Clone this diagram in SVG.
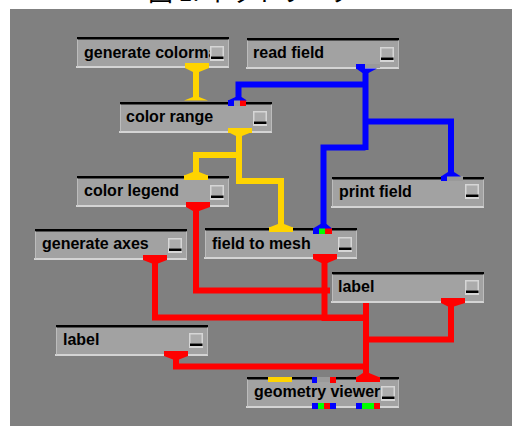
<svg xmlns="http://www.w3.org/2000/svg" xmlns:xlink="http://www.w3.org/1999/xlink" width="512" height="426" viewBox="0 0 512 426">
<style>
.face{fill:#a2a2a2}
.topl{fill:#000}
.botl{fill:#d4d4d4}
.lbl{font-family:"Liberation Sans",Arial,sans-serif;font-weight:bold;font-size:16px;fill:#000}
.cy{stroke:#ffd400;fill:none;stroke-width:6}
.cb{stroke:#0000ff;fill:none;stroke-width:6}
.cr{stroke:#ff0000;fill:none;stroke-width:6}
.fy{fill:#ffd400}
.fb{fill:#0000ff}
.fr{fill:#ff0000}
.fg{fill:#00ff00}
.pg{fill:#9a9a9a}
</style>
<defs>
<g id="btn">
<rect width="14" height="15" fill="#d6d6d6"/>
<rect x="1.5" y="1.5" width="11" height="9" fill="#acacac"/>
<rect x="1" y="10.5" width="12.5" height="2.5" fill="#000"/>
</g>
<g id="box">
<rect class="face" width="152" height="31"/>
<rect class="topl" width="152" height="2.5"/>
<rect class="botl" x="-1" y="29" width="153" height="2"/>
<rect fill="#bcbcbc" x="0" y="2.5" width="1" height="27"/>
<rect fill="#bcbcbc" x="151" y="2.5" width="1" height="27"/>
</g>
</defs>
<rect width="512" height="426" fill="#fff"/>
<rect x="10" y="9" width="502" height="417" fill="#808080"/>
<text x="148" y="1" font-family="'Noto Sans CJK JP',sans-serif" font-size="25" fill="#000">図 1. ネットワーク</text>

<g id="n-generate-colormap">
<use xlink:href="#box" x="77" y="37"/>
<text class="lbl" x="84" y="58">generate colorma</text>
<use xlink:href="#btn" x="210" y="46"/>
<rect class="fy" x="185" y="63" width="24" height="5"/>
</g>
<g id="n-read-field">
<use xlink:href="#box" x="247" y="38"/>
<text class="lbl" x="253" y="58">read field</text>
<use xlink:href="#btn" x="380" y="47"/>
<rect class="fb" x="356" y="64" width="9" height="5"/>
<rect class="pg" x="365" y="64" width="15" height="4"/>
</g>
<g id="n-color-range">
<use xlink:href="#box" x="120" y="102"/>
<text class="lbl" x="126" y="122">color range</text>
<use xlink:href="#btn" x="253" y="111"/>
<rect class="pg" x="228" y="100" width="18" height="6"/>
<rect class="fb" x="228" y="100" width="6" height="6"/>
<rect class="fr" x="240" y="100" width="6" height="6"/>
<rect class="fy" x="228" y="128" width="24" height="5"/>
</g>
<g id="n-color-legend">
<use xlink:href="#box" x="77" y="176"/>
<text class="lbl" x="84" y="196">color legend</text>
<use xlink:href="#btn" x="210" y="185"/>
<rect class="fy" x="184" y="175" width="24" height="5"/>
<rect class="fr" x="186" y="202" width="24" height="5"/>
</g>
<g id="n-print-field">
<use xlink:href="#box" x="332" y="177"/>
<text class="lbl" x="339" y="197">print field</text>
<use xlink:href="#btn" x="465" y="184"/>
<rect class="pg" x="441" y="176" width="22" height="5"/>
<rect class="fb" x="441" y="176" width="6" height="5"/>
</g>
<g id="n-generate-axes">
<use xlink:href="#box" x="35" y="229"/>
<text class="lbl" x="42" y="249">generate axes</text>
<use xlink:href="#btn" x="168" y="238"/>
<rect class="fr" x="143" y="255" width="24" height="5"/>
</g>
<g id="n-field-to-mesh">
<use xlink:href="#box" x="205" y="228"/>
<text class="lbl" x="212" y="249">field to mesh</text>
<use xlink:href="#btn" x="338" y="237"/>
<rect class="fy" x="269" y="227" width="24" height="5"/>
<rect class="fb" x="313" y="228" width="6" height="6"/>
<rect class="fg" x="319" y="228" width="6" height="6"/>
<rect class="fr" x="325" y="228" width="7" height="6"/>
<rect class="fr" x="313" y="254" width="24" height="5"/>
</g>
<g id="n-label-right">
<use xlink:href="#box" x="332" y="272"/>
<text class="lbl" x="338" y="292">label</text>
<use xlink:href="#btn" x="465" y="280"/>
<rect class="fr" x="441" y="298" width="24" height="5"/>
</g>
<g id="n-label-left">
<use xlink:href="#box" x="56" y="325"/>
<text class="lbl" x="63" y="345">label</text>
<use xlink:href="#btn" x="189" y="333"/>
<rect class="fr" x="164" y="351" width="24" height="5"/>
</g>
<g id="n-geometry-viewer">
<use xlink:href="#box" x="247" y="377"/>
<text class="lbl" x="254" y="397">geometry viewer</text>
<use xlink:href="#btn" x="381" y="386"/>
<rect class="fy" x="268" y="377" width="24" height="5"/>
<rect class="pg" x="312" y="377" width="24" height="5"/>
<rect class="fb" x="312" y="377" width="5" height="6"/>
<rect class="fr" x="330" y="377" width="6" height="6"/>
<rect class="fr" x="356" y="377" width="24" height="5"/>
<rect class="fb" x="312" y="403" width="6" height="6"/>
<rect class="fg" x="318" y="403" width="6" height="6"/>
<rect class="fr" x="324" y="403" width="6" height="6"/>
<rect class="fb" x="330" y="403" width="6" height="6"/>
<rect class="fb" x="356" y="403" width="6" height="6"/>
<rect class="fg" x="362" y="403" width="12" height="6"/>
<rect class="fr" x="374" y="403" width="6" height="6"/>
</g>

<g id="connectors">
<path class="cy" d="M196 70 V99"/>
<polygon class="fy" points="185,68 209,68 199,72 193,72"/>
<polygon class="fy" points="193,97 199,97 208,100.5 184,100.5"/>
<path class="cy" d="M239 133 V155 H196 V174"/>
<path class="cy" d="M239 155 V181 H281 V226"/>
<polygon class="fy" points="228,132 252,132 242,136 236,136"/>
<polygon class="fy" points="193,172 199,172 208,175.5 184,175.5"/>
<polygon class="fy" points="278,224 284,224 293,227.5 269,227.5"/>
<polygon class="fb" points="356,68.5 377,68.5 368.5,73 362.5,73"/>
<path class="cb" d="M365.5 72 V150"/>
<path class="cb" d="M365.5 84.5 H238.5 V99"/>
<polygon class="fb" points="235.5,97 241.5,97 247,100.5 228,100.5"/>
<path class="cb" d="M365.5 121.5 H451 V174"/>
<polygon class="fb" points="448,172 454,172 461,176.5 441,176.5"/>
<path class="cb" d="M365.5 147.5 H323.5 V226"/>
<polygon class="fb" points="320.5,224 326.5,224 332,228.5 313,228.5"/>
<polygon class="fr" points="186,207 210,207 199,211 193,211"/>
<path class="cr" d="M196 210 V290.5 H330"/>
<polygon class="fr" points="313,259 337,259 327.5,263 321.5,263"/>
<path class="cr" d="M324.5 262 V318 H369"/>
<polygon class="fr" points="143,260 167,260 158,263.5 152,263.5"/>
<path class="cr" d="M155 262 V317.5 H366"/>
<polygon class="fr" points="441,303 465,303 454,306.5 448,306.5"/>
<path class="cr" d="M451 305 V339.5 H366"/>
<polygon class="fr" points="164,356 188,356 179,359.5 173,359.5"/>
<path class="cr" d="M176 358 V366.5 H366"/>
<path class="cr" d="M366 303 V375"/>
<polygon class="fr" points="363,373 369,373 380,377.5 356,377.5"/>
</g>
</svg>
